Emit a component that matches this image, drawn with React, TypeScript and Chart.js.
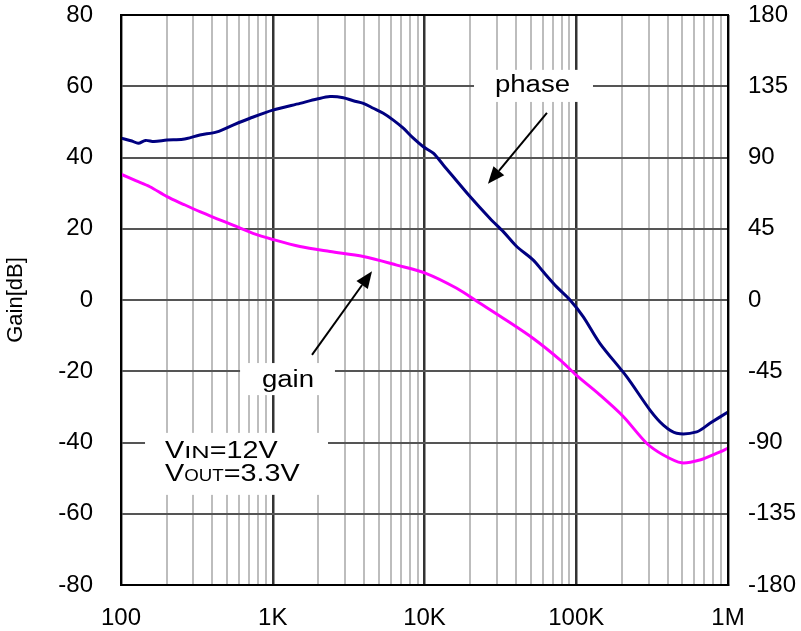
import React, { useEffect, useRef } from 'react';
import { Chart, registerables } from 'chart.js';

Chart.register(...registerables);

// ---------- data ----------
const gainFreq = [100, 125, 155, 201, 260, 331, 430, 547, 741, 1000, 1513, 2384, 3953, 6560, 10200, 16300, 23200, 33000, 52100, 78160, 100000, 143500, 204000, 291000, 375000, 495000, 653500, 846000, 1000000];
const gainDb = [35.3, 33.5, 31.8, 29.0, 26.8, 24.8, 22.8, 21.0, 18.7, 17.0, 15.0, 13.6, 12.2, 9.8, 7.5, 3.3, -0.9, -5.1, -10.8, -16.8, -21.1, -26.7, -32.7, -40.2, -43.5, -45.7, -44.9, -43.0, -41.6];

const phaseFreq = [100, 118, 130, 145, 165, 201, 256, 331, 429, 547, 708, 1000, 1513, 1957, 2384, 2917, 3395, 3953, 4598, 5352, 6229, 7249, 8438, 9822, 11430, 13300, 19950, 27020, 33050, 40500, 52120, 60650, 74300, 90960, 111300, 143500, 214800, 306200, 375000, 459000, 622000, 760000, 1000000];
const phaseDeg = [102.2, 100.4, 99.0, 100.8, 100.1, 101.0, 101.5, 104.2, 106.2, 110.5, 114.8, 119.9, 124.2, 126.9, 128.5, 127.8, 125.8, 124.2, 121.1, 117.9, 113.6, 108.5, 102.2, 96.8, 92.7, 85.3, 65.3, 51.5, 43.2, 33.8, 25.2, 17.8, 8.3, 0.0, -10.6, -27.5, -48.4, -69.5, -79.0, -84.2, -83.3, -77.9, -70.7];

const gainTickStep = 20;
const gainRange = [-80, 80];
const phaseTickStep = 45;
const phaseRange = [-180, 180];
const freqRange = [100, 1000000];
const freqLabels: Record<number, string> = { 100: '100', 1000: '1K', 10000: '10K', 100000: '100K', 1000000: '1M' };

// annotation anchors in data units (frequency, gain dB)
const phaseLabel = { text: 'phase', f: 51500, db: 58.5 };
const phaseBox = { f0: 21200, f1: 128900, db0: 64.6, db1: 55.6 };
const phaseArrow = { f0: 64100, db0: 52.5, f1: 26200, db1: 32.6 };
const gainLabel = { text: 'gain', f: 1260, db: -24.4 };
const gainBox = { f0: 609, f1: 2570, db0: -17.7, db1: -26.7 };
const gainArrow = { f0: 1814, db0: -15.4, f1: 4510, db1: 8.1 };
const condBox = { f0: 144, f1: 2313, db0: -37.3, db1: -54.7 };
const condLine1 = [['V', false], ['IN', true], ['=12V', false]] as [string, boolean][];
const condLine2 = [['V', false], ['OUT', true], ['=3.3V', false]] as [string, boolean][];
const condPos = { f: 195, db1: -44.35, db2: -50.8 };

// grid frequencies: 1..9 multiples of every decade
const freqGrid: number[] = [];
for (let d = freqRange[0]; d < freqRange[1]; d *= 10) {
  for (let m = 1; m <= 9; m++) freqGrid.push(d * m);
}
freqGrid.push(freqRange[1]);

const isDecade = (v: number) => {
  const l = Math.log10(v);
  return Math.abs(l - Math.round(l)) < 1e-9;
};

const FONT = "'Liberation Sans', Arial, sans-serif";

const annotPlugin = {
  id: 'annot',
  beforeDatasetsDraw(chart: any) {
    const { ctx, scales } = chart;
    const x = scales.x, y = scales.y;
    ctx.save();
    ctx.fillStyle = '#ffffff';
    for (const b of [phaseBox, gainBox, condBox]) {
      const x0 = x.getPixelForValue(b.f0), x1 = x.getPixelForValue(b.f1);
      const y0 = y.getPixelForValue(b.db0), y1 = y.getPixelForValue(b.db1);
      ctx.fillRect(x0, y0, x1 - x0, y1 - y0);
    }
    ctx.restore();
  },
  afterDatasetsDraw(chart: any) {
    const { ctx, scales, chartArea } = chart;
    const x = scales.x, y = scales.y;
    ctx.save();
    // outer frame
    ctx.strokeStyle = '#000';
    ctx.lineWidth = 2;
    ctx.strokeRect(chartArea.left, chartArea.top, chartArea.right - chartArea.left, chartArea.bottom - chartArea.top);

    ctx.fillStyle = '#000';
    ctx.textBaseline = 'alphabetic';
    const stretchText = (txt: string, px: number, py: number, size: number, sx: number, align: 'center' | 'left') => {
      ctx.save();
      ctx.font = `${size}px ${FONT}`;
      const w = ctx.measureText(txt).width * sx;
      ctx.translate(align === 'center' ? px - w / 2 : px, py);
      ctx.scale(sx, 1);
      ctx.textAlign = 'left';
      ctx.fillText(txt, 0, 0);
      ctx.restore();
      return w;
    };
    stretchText(phaseLabel.text, x.getPixelForValue(phaseLabel.f), y.getPixelForValue(phaseLabel.db), 23, 1.2, 'center');
    stretchText(gainLabel.text, x.getPixelForValue(gainLabel.f), y.getPixelForValue(gainLabel.db), 23, 1.2, 'center');

    const drawCond = (parts: [string, boolean][], py: number) => {
      let px = x.getPixelForValue(condPos.f);
      for (const [t, small] of parts) {
        const w = small ? stretchText(t, px, py, 17, t.length === 2 ? 1.5 : 1.1, 'left') : stretchText(t, px, py, 23, 1.25, 'left');
        px += w;
      }
    };
    drawCond(condLine1, y.getPixelForValue(condPos.db1));
    drawCond(condLine2, y.getPixelForValue(condPos.db2));

    const arrow = (a: { f0: number; db0: number; f1: number; db1: number }) => {
      const x0 = x.getPixelForValue(a.f0), y0 = y.getPixelForValue(a.db0);
      const x1 = x.getPixelForValue(a.f1), y1 = y.getPixelForValue(a.db1);
      const ang = Math.atan2(y1 - y0, x1 - x0);
      const L = 17, W = 7;
      const bx = x1 - L * Math.cos(ang), by = y1 - L * Math.sin(ang);
      ctx.strokeStyle = '#000';
      ctx.lineWidth = 2;
      ctx.beginPath();
      ctx.moveTo(x0, y0);
      ctx.lineTo(bx, by);
      ctx.stroke();
      ctx.beginPath();
      ctx.moveTo(x1, y1);
      ctx.lineTo(bx + W * Math.sin(ang), by - W * Math.cos(ang));
      ctx.lineTo(bx - W * Math.sin(ang), by + W * Math.cos(ang));
      ctx.closePath();
      ctx.fill();
    };
    arrow(phaseArrow);
    arrow(gainArrow);
    ctx.restore();
  },
};

export default function App() {
  const ref = useRef<HTMLCanvasElement | null>(null);
  useEffect(() => {
    if (!ref.current) return;
    const tickFont = { family: FONT, size: 24 };
    const chart = new Chart(ref.current, {
      type: 'line',
      data: {
        datasets: [
          {
            label: 'gain',
            data: gainFreq.map((f, i) => ({ x: f, y: gainDb[i] })),
            borderColor: '#ff00ff',
            borderWidth: 3,
            pointRadius: 0,
            tension: 0.3,
            yAxisID: 'y',
          },
          {
            label: 'phase',
            data: phaseFreq.map((f, i) => ({ x: f, y: phaseDeg[i] })),
            borderColor: '#000080',
            borderWidth: 3,
            pointRadius: 0,
            tension: 0.3,
            yAxisID: 'y1',
          },
        ],
      },
      options: {
        responsive: false,
        animation: false,
        events: [],
        layout: { padding: { top: 15, left: 0, right: 0, bottom: 0 } },
        plugins: { legend: { display: false }, tooltip: { enabled: false } },
        scales: {
          x: {
            type: 'logarithmic',
            position: 'bottom',
            min: freqRange[0],
            max: freqRange[1],
            afterBuildTicks: (s: any) => {
              s.ticks = freqGrid.map((v) => ({ value: v, major: isDecade(v) }));
            },
            afterFit: (s: any) => {
              s.height = 46;
              s.paddingLeft = 0;
              s.paddingRight = 0;
            },
            ticks: {
              autoSkip: false,
              maxRotation: 0,
              minRotation: 0,
              padding: 19,
              color: '#000',
              font: tickFont,
              callback: (v: any) => freqLabels[Math.round(Number(v))] ?? '',
            },
            grid: {
              drawTicks: false,
              color: (c: any) => (isDecade(c.tick.value) ? '#333333' : '#bdbdbd'),
              lineWidth: (c: any) => (isDecade(c.tick.value) ? 2.5 : 2),
            },
            border: { color: '#000', width: 2 },
          },
          y: {
            position: 'left',
            min: gainRange[0],
            max: gainRange[1],
            afterFit: (s: any) => {
              s.width = 121;
              s.paddingTop = 0;
              s.paddingBottom = 0;
            },
            ticks: { stepSize: gainTickStep, padding: 28, color: '#000', font: tickFont },
            grid: { drawTicks: false, color: '#555555', lineWidth: 2 },
            border: { color: '#000', width: 2 },
            title: {
              display: true,
              text: 'Gain[dB]',
              color: '#000',
              font: { family: FONT, size: 22, lineHeight: 1.2 },
              padding: { top: 3, bottom: 0 },
            },
          },
          y1: {
            position: 'right',
            min: phaseRange[0],
            max: phaseRange[1],
            afterFit: (s: any) => {
              s.width = 73;
              s.paddingTop = 0;
              s.paddingBottom = 0;
            },
            ticks: { stepSize: phaseTickStep, padding: 20, color: '#000', font: tickFont },
            grid: { drawOnChartArea: false, drawTicks: false },
            border: { color: '#000', width: 2 },
          },
        },
      },
      plugins: [annotPlugin],
    } as any);
    return () => chart.destroy();
  }, []);
  return (
    <div style={{ position: 'fixed', left: 0, top: 0, width: 801, height: 631, background: '#fff' }}>
      <canvas ref={ref} width={801} height={631} style={{ display: 'block' }} />
    </div>
  );
}
